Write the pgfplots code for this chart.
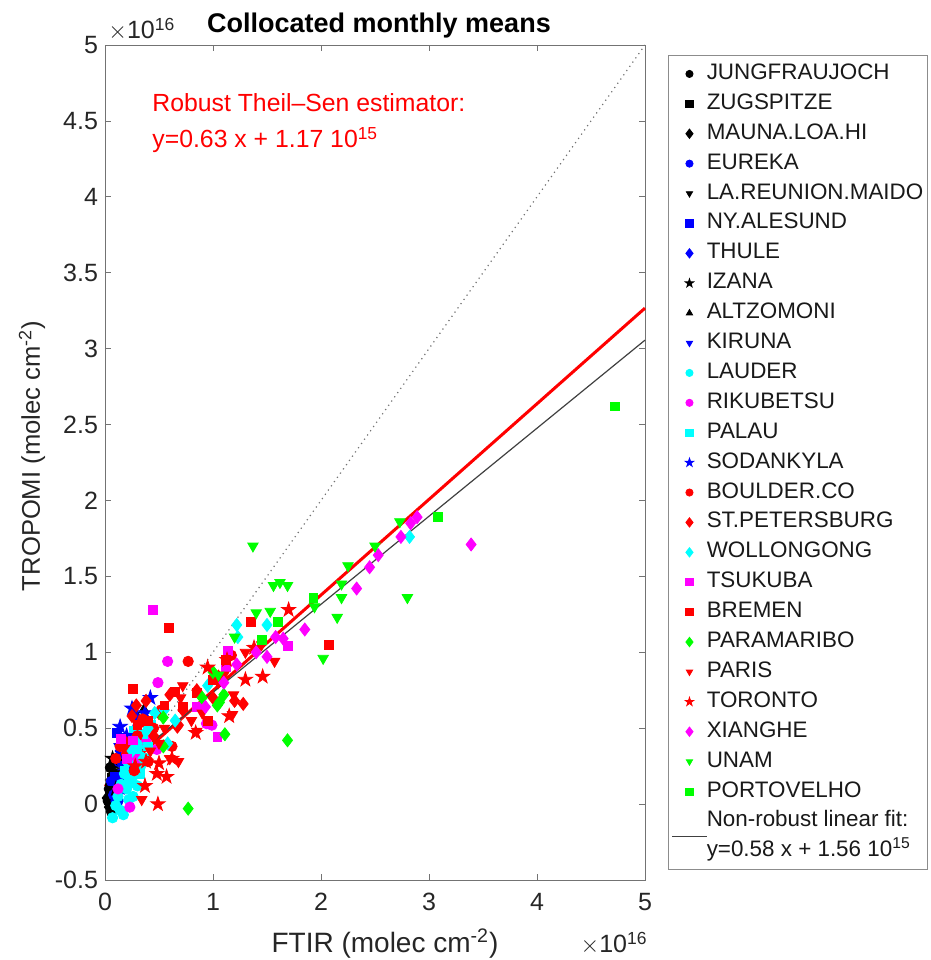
\documentclass[border=0pt]{standalone}
\usepackage{pgfplots}
\pgfplotsset{compat=1.18}
\usepackage{fontspec}
\setmainfont{Liberation Sans}
\usetikzlibrary{plotmarks}

\definecolor{mblue}{rgb}{0,0,1}
\definecolor{mcyan}{rgb}{0,1,1}
\definecolor{mmag}{rgb}{1,0,1}
\definecolor{mred}{rgb}{1,0,0}
\definecolor{mgreen}{rgb}{0,1,0}

\pgfdeclareplotmark{pentagram}{%
 \pgfpathmoveto{\pgfpointpolar{90}{1.25\pgfplotmarksize}}%
 \pgfpathlineto{\pgfpointpolar{126}{0.48\pgfplotmarksize}}%
 \pgfpathlineto{\pgfpointpolar{162}{1.25\pgfplotmarksize}}%
 \pgfpathlineto{\pgfpointpolar{198}{0.48\pgfplotmarksize}}%
 \pgfpathlineto{\pgfpointpolar{234}{1.25\pgfplotmarksize}}%
 \pgfpathlineto{\pgfpointpolar{270}{0.48\pgfplotmarksize}}%
 \pgfpathlineto{\pgfpointpolar{306}{1.25\pgfplotmarksize}}%
 \pgfpathlineto{\pgfpointpolar{342}{0.48\pgfplotmarksize}}%
 \pgfpathlineto{\pgfpointpolar{18}{1.25\pgfplotmarksize}}%
 \pgfpathlineto{\pgfpointpolar{54}{0.48\pgfplotmarksize}}%
 \pgfpathclose\pgfusepathqfillstroke}
\pgfdeclareplotmark{mdiamond}{%
 \pgfpathmoveto{\pgfpoint{0pt}{1.3\pgfplotmarksize}}%
 \pgfpathlineto{\pgfpoint{\pgfplotmarksize}{0pt}}%
 \pgfpathlineto{\pgfpoint{0pt}{-1.3\pgfplotmarksize}}%
 \pgfpathlineto{\pgfpoint{-\pgfplotmarksize}{0pt}}%
 \pgfpathclose\pgfusepathqfillstroke}

\pgfplotsset{
 stc/.style={only marks, mark=*, mark size=2.6pt},
 sts/.style={only marks, mark=square*, mark size=2.2pt},
 std/.style={only marks, mark=mdiamond, mark size=2.5pt},
 stv/.style={only marks, mark=triangle*, mark size=3pt, mark options={rotate=180}},
 stu/.style={only marks, mark=triangle*, mark size=3pt},
 stp/.style={only marks, mark=pentagram, mark size=3pt},
 shiftlegend/.style={legend image code/.code={\draw[##1, overlay] (0cm,-7.5pt) -- (0.6cm,-7.5pt);}},
 nolegimg/.style={legend image code/.code={}},
}
\newcommand{\st}[3]{\addplot[#1] coordinates {#2};\addlegendentry{#3}}

\begin{document}
\begin{tikzpicture}
\begin{axis}[
 scale only axis, width=270pt, height=417.5pt,
 at={(0,0)}, anchor=south west,
 xmin=0, xmax=5, ymin=-0.5, ymax=5,
 xtick={0,1,2,3,4,5}, ytick={-0.5,0,0.5,1,1.5,2,2.5,3,3.5,4,4.5,5},
 tick align=inside, major tick length=3pt,
 axis line style={black!55}, every tick/.style={black!55},
 tick label style={font=\fontsize{12.5}{15}\selectfont, text=black!85},
 /pgf/number format/assume math mode=true,
 xticklabel style={yshift=-3pt},
 clip=false,
 legend style={at={(1.0426,0.988)}, anchor=north west, draw=black!45,
   font=\fontsize{11.2}{13}\selectfont, cells={anchor=west},
   nodes={inner sep=0pt, text height=8pt, text depth=2.5pt, text=black!90},
   row sep=4.45pt, column sep=6.5pt, inner xsep=2pt, inner ysep=4pt},
 legend image post style={mark size=1.8pt},
]
\st{stc,black}{(0.05,0.24) (0.04,0.10) (0.06,-0.05) (0.03,0.02) (0.10,0.27) (0.09,0.15) (0.12,0.20)}{JUNGFRAUJOCH}
\st{sts,black}{(0.06,0.17) (0.04,0.06) (0.13,0.30) (0.08,0.00)}{ZUGSPITZE}
\st{std,black}{(0.02,0.04) (0.05,0.13) (0.04,-0.02)}{MAUNA.LOA.HI}
\st{stc,mblue}{(0.08,0.06) (0.10,0.12) (0.12,0.02) (0.15,0.20) (0.06,0.15) (0.18,0.10) (0.13,0.28)}{EUREKA}
\st{stv,black}{(0.10,0.20) (0.16,0.30)}{LA.REUNION.MAIDO}
\st{sts,mblue}{(0.11,0.47) (0.15,0.33) (0.18,0.25) (0.09,0.18) (0.22,0.40) (0.25,0.30)}{NY.ALESUND}
\st{std,mblue}{(0.12,0.08) (0.16,0.15) (0.20,0.22) (0.10,0.02) (0.24,0.26) (0.14,0.35)}{THULE}
\st{stp,black}{(0.07,0.30) (0.10,0.10)}{IZANA}
\st{stu,black}{(0.36,0.62) (0.30,0.57)}{ALTZOMONI}
\st{stv,mblue}{(0.16,0.25) (0.20,0.31) (0.13,0.38) (0.24,0.18) (0.28,0.36)}{KIRUNA}
\st{stc,mcyan}{(0.07,-0.09) (0.17,-0.07) (0.12,0.05) (0.20,0.10) (0.25,0.17) (0.15,0.13) (0.22,0.03) (0.28,0.22) (0.18,0.20) (0.10,-0.01) (0.30,0.12) (0.26,0.05) (0.33,0.25) (0.14,-0.04) (0.21,0.28) (0.35,0.40) (0.28,0.32) (0.38,0.30)}{LAUDER}
\st{stc,mmag}{(0.58,0.94) (0.49,0.80) (0.23,-0.02) (0.48,0.36) (0.94,0.53) (0.99,0.52) (0.30,0.30) (0.12,0.10) (0.38,0.42) (0.20,0.35)}{RIKUBETSU}
\st{sts,mcyan}{(0.20,0.30) (0.25,0.40) (0.30,0.36) (0.35,0.46) (0.18,0.22) (0.40,0.38) (0.27,0.48) (0.32,0.20) (0.22,0.14) (0.43,0.52)}{PALAU}
\st{stp,mblue}{(0.42,0.70) (0.25,0.63) (0.14,0.51) (0.30,0.56) (0.20,0.45) (0.37,0.60) (0.17,0.38)}{SODANKYLA}
\st{stc,mred}{(0.77,0.94) (0.14,0.38) (0.62,0.38) (1.17,0.98) (0.10,0.30) (0.30,0.45) (0.45,0.50) (0.20,0.33) (0.35,0.56) (0.52,0.62) (0.27,0.22) (0.40,0.28)}{BOULDER.CO}
\st{std,mred}{(0.29,0.65) (0.67,0.51) (1.05,0.84) (1.28,0.66) (0.68,0.52) (0.35,0.55) (0.50,0.60) (0.20,0.40) (0.60,0.72) (1.00,0.70) (1.20,0.68) (0.45,0.45) (0.25,0.58) (0.38,0.68) (0.72,0.62) (0.85,0.75)}{ST.PETERSBURG}
\st{std,mcyan}{(1.22,1.18) (1.23,1.10) (1.50,1.18) (0.55,0.62) (2.82,1.76) (0.95,0.78) (0.40,0.50) (0.30,0.40) (0.65,0.55) (0.25,0.35) (0.46,0.60) (0.58,0.40) (0.35,0.30)}{WOLLONGONG}
\st{sts,mmag}{(0.44,1.28) (1.14,1.01) (1.12,0.90) (1.04,0.44) (1.69,1.04) (0.26,0.42) (0.85,0.64) (0.20,0.30) (0.15,0.43)}{TSUKUBA}
\st{sts,mred}{(0.59,1.16) (1.35,1.20) (2.07,1.05) (0.26,0.76) (0.85,0.73) (0.72,0.64) (0.55,0.65) (0.40,0.55) (0.30,0.52) (1.00,0.82) (1.12,0.95) (0.95,0.55) (0.65,0.74)}{BREMEN}
\st{std,mgreen}{(1.00,0.87) (1.04,0.65) (1.06,0.67) (1.11,0.46) (1.69,0.42) (0.77,-0.03) (0.54,0.57) (0.54,0.38) (0.90,0.70) (1.10,0.72)}{PARAMARIBO}
\st{stv,mred}{(1.57,0.94) (0.72,0.78) (1.19,0.72) (1.18,0.59) (0.68,0.28) (0.34,0.03) (0.55,0.50) (0.80,0.55) (1.05,0.80) (1.30,1.00) (1.45,1.05) (0.60,0.30) (0.90,0.60) (0.42,0.35) (1.10,0.85) (0.70,0.70) (0.50,0.40) (0.85,0.48)}{PARIS}
\st{stp,mred}{(1.70,1.28) (1.38,1.03) (1.46,0.84) (1.30,0.82) (0.84,0.47) (0.48,0.20) (0.57,0.18) (0.37,0.12) (0.49,0.00) (0.38,0.28) (0.50,0.27) (1.13,0.95) (0.95,0.90) (1.15,0.58) (0.62,0.30) (0.28,0.25)}{TORONTO}
\st{std,mmag}{(1.85,1.15) (2.33,1.42) (2.45,1.56) (2.53,1.64) (2.74,1.76) (2.83,1.85) (2.89,1.89) (3.39,1.71) (1.50,0.97) (1.65,1.09) (1.22,0.92) (0.93,0.64) (1.40,1.00) (1.10,0.80) (1.58,1.10)}{XIANGHE}
\st{stv,mgreen}{(1.37,1.70) (1.56,1.44) (1.62,1.46) (1.69,1.44) (1.40,1.26) (1.53,1.27) (1.94,1.30) (2.19,1.36) (2.15,1.23) (2.02,0.96) (2.80,1.36) (2.25,1.57) (2.50,1.70) (2.73,1.86) (2.19,1.45) (1.20,1.10) (1.05,0.85)}{UNAM}
\st{sts,mgreen}{(4.72,2.62) (3.08,1.89) (1.93,1.36) (1.45,1.08) (1.60,1.20)}{PORTOVELHO}
\addplot[black!55, dotted, line width=0.6pt, forget plot] coordinates {(0,0) (5,5)};
\addplot[mred, line width=1.5pt, forget plot] coordinates {(0,0.117) (5,3.267)};
\addplot[black!75, line width=0.6pt, shiftlegend] coordinates {(0,0.156) (5,3.056)};
\addlegendentry{Non-robust linear fit:}
\addlegendimage{nolegimg}
\addlegendentry{y=0.58 x + 1.56 10\textsuperscript{15}}
\end{axis}
\node[anchor=base, font=\bfseries\fontsize{13.5}{16}\selectfont] at (137pt,423.5pt) {Collocated monthly means};
\node[anchor=base west, inner sep=0pt, font=\fontsize{12.5}{15}\selectfont, text=black!85] at (1.5pt,420.5pt) {$\times$10\textsuperscript{16}};
\node[anchor=base east, inner sep=0pt, font=\fontsize{12.5}{15}\selectfont, text=black!85] at (271.5pt,-36.5pt) {$\times$10\textsuperscript{16}};
\node[anchor=base, inner sep=0pt, font=\fontsize{14}{17}\selectfont, text=black!85] at (140pt,-36.5pt) {FTIR (molec cm\textsuperscript{-2})};
\node[anchor=center, rotate=90, inner sep=0pt, font=\fontsize{12.8}{15}\selectfont, text=black!85] at (-36.5pt,212pt) {TROPOMI (molec cm\textsuperscript{-2})};
\node[anchor=base west, inner sep=0pt, font=\fontsize{12.4}{15}\selectfont, text=mred] at (23.5pt,384pt) {Robust Theil–Sen estimator:};
\node[anchor=base west, inner sep=0pt, font=\fontsize{12.4}{15}\selectfont, text=mred] at (23.5pt,366pt) {y=0.63 x + 1.17 10\textsuperscript{15}};
\pgfresetboundingbox
\path[use as bounding box] (-52.5pt,-40pt) rectangle (413pt,440pt);
\end{tikzpicture}
\end{document}
